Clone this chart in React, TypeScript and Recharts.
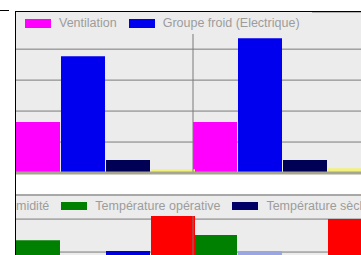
import { BarChart, Bar, XAxis, YAxis, CartesianGrid, Legend, ReferenceLine } from 'recharts';

const categories = ['Cas 1', 'Cas 2'];

// top chart
const ventilation = [1.65, 1.65];
const groupeFroid = [3.77, 4.35];
const pompes = [0.42, 0.42];
const eclairage = [0.12, 0.15];
const topTicks = [0, 1, 2, 3, 4];

// bottom chart
const tempOperative = [2.36, 2.52];
const humidite = [1.5, 2.03];
const tempSeche = [2.03, 1.6];
const tempExterieure = [3.09, 3.0];
const bottomTicks = [0, 1, 2, 3];

const topData = categories.map((name, i) => ({
  name,
  ventilation: ventilation[i],
  groupeFroid: groupeFroid[i],
  pompes: pompes[i],
  eclairage: eclairage[i],
}));

const bottomData = categories.map((name, i) => ({
  name,
  tempOperative: tempOperative[i],
  humidite: humidite[i],
  tempSeche: tempSeche[i],
  tempExterieure: tempExterieure[i],
}));

const topLegend = [
  { name: 'Ventilation', color: '#ff00ff' },
  { name: 'Groupe froid (Electrique)', color: '#0000ee' },
];

const bottomLegend = [
  { name: 'Humidité', color: '#9aa6e0' },
  { name: 'Température opérative', color: '#008000' },
  { name: 'Température sèche', color: '#000066' },
  { name: 'Température extérieure', color: '#ff0000' },
];

interface LegendItem {
  name: string;
  color: string;
}

function SimpleLegend({ items, swatchH, pad, h }: { items: LegendItem[]; swatchH: number; pad: string; h: number }) {
  return (
    <div
      style={{
        display: 'flex',
        alignItems: 'center',
        whiteSpace: 'nowrap',
        padding: pad,
        height: h,
        background: '#ececec',
      }}
    >
      {items.map((it) => (
        <span key={it.name} style={{ display: 'flex', alignItems: 'center', marginRight: 12 }}>
          <span style={{ width: 26, height: swatchH, background: it.color, display: 'inline-block', marginRight: 8 }} />
          <span style={{ fontFamily: '"Liberation Sans", Arial, sans-serif', fontSize: 12.5, color: '#9c9c9c' }}>
            {it.name}
          </span>
        </span>
      ))}
    </div>
  );
}

export default function App() {
  return (
    <div
      style={{
        position: 'absolute',
        left: 0,
        top: 0,
        width: 361,
        height: 255,
        overflow: 'hidden',
        background: '#fff',
      }}
    >
      <div style={{ position: 'absolute', left: 0, top: 10, width: 9, height: 1, background: '#000' }} />

      <div style={{ position: 'absolute', left: 16, top: 12, width: 345, height: 243, overflow: 'hidden' }}>
        <div style={{ position: 'absolute', left: 0, top: 0 }}>
          <BarChart
            width={354}
            height={167}
            data={topData}
            margin={{ top: 0, right: 0, bottom: 0, left: 0 }}
            barCategoryGap={0}
            barGap={1}
          >
            <CartesianGrid fill="#ececec" stroke="#7a7a7a" vertical={false} />
            <XAxis dataKey="name" tick={false} height={6} axisLine={{ stroke: '#a6a690', strokeWidth: 3 }} tickLine={false} />
            <YAxis hide domain={[0, 5.2]} ticks={topTicks} />
            {categories.slice(1).map((c) => (
              <ReferenceLine key={c} x={c} position="start" stroke="#7a7a7a" />
            ))}
            <Legend
              verticalAlign="middle"
              wrapperStyle={{ top: 0, left: 0, width: 'auto' }}
              content={() => <SimpleLegend items={topLegend} swatchH={9} pad="0 0 0 9px" h={22} />}
            />
            <Bar dataKey="ventilation" name="Ventilation" fill="#ff00ff" isAnimationActive={false} />
            <Bar dataKey="groupeFroid" name="Groupe froid (Electrique)" fill="#0000ee" isAnimationActive={false} />
            <Bar dataKey="pompes" name="Pompes" fill="#000055" isAnimationActive={false} />
            <Bar dataKey="eclairage" name="Eclairage" fill="#f2f27a" isAnimationActive={false} />
          </BarChart>
        </div>

        <div style={{ position: 'absolute', left: 0, top: 182, width: 360, height: 2, background: '#a8a8a8' }} />

        <div style={{ position: 'absolute', left: 0, top: 184 }}>
          <BarChart
            width={354}
            height={130}
            data={bottomData}
            margin={{ top: 0, right: 0, bottom: 0, left: 0 }}
            barCategoryGap={0}
            barGap={1}
          >
            <CartesianGrid fill="#ececec" stroke="#7a7a7a" vertical={false} />
            <XAxis dataKey="name" tick={false} height={8} axisLine={{ stroke: '#a6a690', strokeWidth: 3 }} tickLine={false} />
            <YAxis hide domain={[0, 3.7]} ticks={bottomTicks} />
            {categories.slice(1).map((c) => (
              <ReferenceLine key={c} x={c} position="start" stroke="#7a7a7a" />
            ))}
            <Legend
              verticalAlign="middle"
              wrapperStyle={{ top: 0, left: -50, width: 'auto' }}
              content={() => <SimpleLegend items={bottomLegend} swatchH={8} pad="0" h={20} />}
            />
            <Bar dataKey="tempOperative" name="Température opérative" fill="#008000" isAnimationActive={false} />
            <Bar dataKey="humidite" name="Humidité" fill="#9aa6e0" isAnimationActive={false} />
            <Bar dataKey="tempSeche" name="Température sèche" fill="#0000dd" isAnimationActive={false} />
            <Bar dataKey="tempExterieure" name="Température extérieure" fill="#ff0000" isAnimationActive={false} />
          </BarChart>
        </div>
      </div>

      <div
        style={{
          position: 'absolute',
          left: 15,
          top: 11,
          width: 400,
          height: 300,
          borderTop: '1px solid #000',
          borderLeft: '1px solid #000',
          pointerEvents: 'none',
        }}
      />
    </div>
  );
}
